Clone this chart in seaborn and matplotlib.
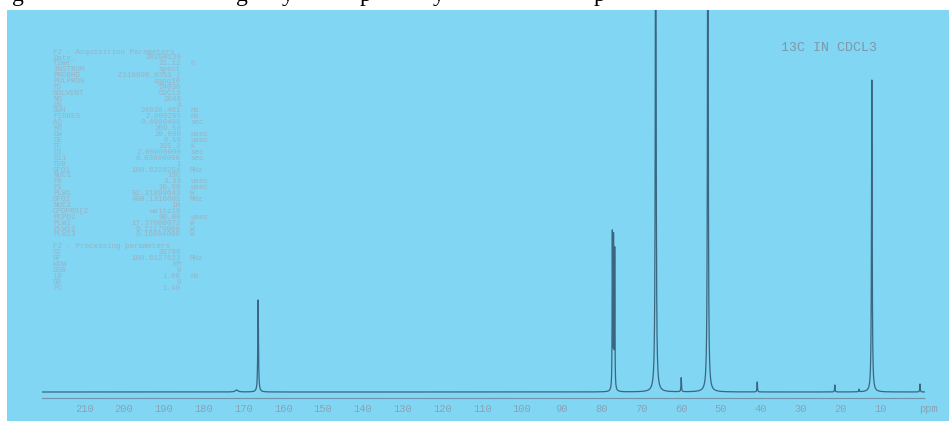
import numpy as np
import pandas as pd
import matplotlib
matplotlib.use("Agg")
import matplotlib.pyplot as plt
import seaborn as sns
from matplotlib.patches import Rectangle
from matplotlib.ticker import MultipleLocator, FixedLocator

# ---------------- data ----------------
peak_ppm = [171.7, 166.3, 77.3, 77.0, 76.7, 66.4, 60.0, 53.3, 40.9, 21.4, 15.3, 12.1, 0.0]
peak_height = [2.0, 92.0, 155.0, 148.0, 138.0, 700.0, 14.0, 650.0, 10.0, 7.0, 2.5, 312.0, 8.0]
peak_hwhm = [0.4, 0.10, 0.06, 0.06, 0.06, 0.10, 0.07, 0.10, 0.07, 0.07, 0.07, 0.10, 0.07]

tick_values = [210, 200, 190, 180, 170, 160, 150, 140, 130, 120, 110, 100,
               90, 80, 70, 60, 50, 40, 30, 20, 10]

acq_title = "F2 - Acquisition Parameters"
acq_labels = ["Date_", "Time", "INSTRUM", "PROBHD", "PULPROG", "TD", "SOLVENT", "NS",
              "DS", "SWH", "FIDRES", "AQ", "RG", "DW", "DE", "TE", "D1", "D11", "TD0",
              "SFO1", "NUC1", "P0", "P1", "PLW1", "SFO2", "NUC2", "CPDPRG[2", "PCPD2",
              "PLW2", "PLW12", "PLW13"]
acq_values = ["20250130", "21.12", "spect", "Z116098_0351 (", "zgpg30", "24036", "CDCl3",
              "2048", "4", "24038.461", "2.000205", "0.4999488", "209.58", "20.800",
              "6.50", "295.2", "2.00000000", "0.03000000", "1", "100.6228254", "13C",
              "3.33", "10.00", "52.31899643", "400.1316005", "1H", "waltz16", "90.00",
              "17.37000072", "0.21179000", "0.16604000"]
acq_units = ["", "h", "", "", "", "", "", "", "", "Hz", "Hz", "sec", "", "usec", "usec",
             "K", "sec", "sec", "", "MHz", "", "usec", "usec", "W", "MHz", "", "",
             "usec", "W", "W", "W"]

proc_title = "F2 - Processing parameters"
proc_labels = ["SI", "SF", "WDW", "SSB", "LB", "GB", "PC"]
proc_values = ["32768", "100.6127623", "EM", "0", "1.00", "0", "1.40"]
proc_units = ["", "MHz", "", "", "Hz", "", ""]

caption_glyphs = ["g", "g", "y", "p", "y", "p"]
caption_x = [18, 242, 288, 366, 439, 600]

sample_label = "13C IN CDCL3"

# ---------------- spectrum from the peak list ----------------
ppm = np.linspace(222.0, -2.0, 44801)
intensity = np.zeros_like(ppm)
for c, h, w in zip(peak_ppm, peak_height, peak_hwhm):
    intensity += h * w**2 / ((ppm - c) ** 2 + w**2)
df = pd.DataFrame({"ppm": ppm, "intensity": intensity})

# ---------------- figure ----------------
W, H = 949, 421
BLUE = "#80d6f3"
LINE = "#3b6680"
TXT = "#9ab2c3"
AX_TXT = "#8aa2b4"
PFS = 5.4  # parameter listing font size

sns.set_style("white")
plt.rcParams["font.family"] = ["Liberation Mono", "DejaVu Sans Mono"]

fig = plt.figure(figsize=(W / 100, H / 100), dpi=100, facecolor="white")
fig.patches.append(Rectangle((7 / W, 0), 1 - 7 / W, 1 - 10 / H,
                             transform=fig.transFigure, facecolor=BLUE,
                             edgecolor="none", zorder=-10))

ax = fig.add_axes([42 / W, 20 / H, 883 / W, 391 / H])
ax.set_facecolor("none")
sns.lineplot(data=df, x="ppm", y="intensity", ax=ax, color=LINE, linewidth=0.9,
             estimator=None, sort=False)
ax.set_xlim(220.6, -1.26)
ax.set_ylim(-9, 382)
ax.set_xlabel("")
ax.set_ylabel("")
ax.set_yticks([])
for s in ["left", "right", "top"]:
    ax.spines[s].set_visible(False)
ax.spines["bottom"].set_position(("data", -5.5))
ax.spines["bottom"].set_color("#6f93a8")
ax.spines["bottom"].set_linewidth(0.8)
ax.spines["bottom"].set_linestyle((0, (2, 1)))
ax.xaxis.set_major_locator(FixedLocator(tick_values))
ax.xaxis.set_minor_locator(MultipleLocator(2))
ax.set_xticklabels([str(v) for v in tick_values])
ax.tick_params(axis="x", which="major", direction="inout", length=4, width=0.7,
               color="#6f93a8", labelcolor=AX_TXT, labelsize=7.5, pad=3)
ax.tick_params(axis="x", which="minor", direction="out", length=1.5, width=0.5,
               color="#7fa0b3")


def fy(y):
    return 1 - y / H


fig.text(929 / W, fy(409), "ppm", ha="center", va="center", fontsize=7.5, color=AX_TXT)
fig.text(829 / W, fy(48), sample_label, ha="center", va="center",
         fontsize=9.5, color="#7f97a9")

# parameter listing
step = 5.9
y0 = 52
fig.text(53 / W, fy(y0), acq_title, ha="left", va="center", fontsize=PFS, color=TXT)
for i, (lab, val, unit) in enumerate(zip(acq_labels, acq_values, acq_units)):
    y = y0 + (i + 1) * step
    fig.text(53 / W, fy(y), lab, ha="left", va="center", fontsize=PFS, color=TXT)
    fig.text(181 / W, fy(y), val, ha="right", va="center", fontsize=PFS, color=TXT)
    if unit:
        fig.text(190 / W, fy(y), unit, ha="left", va="center", fontsize=PFS, color=TXT)

yp = y0 + (len(acq_labels) + 2) * step
fig.text(53 / W, fy(yp), proc_title, ha="left", va="center", fontsize=PFS, color=TXT)
for i, (lab, val, unit) in enumerate(zip(proc_labels, proc_values, proc_units)):
    y = yp + (i + 1) * step
    fig.text(53 / W, fy(y), lab, ha="left", va="center", fontsize=PFS, color=TXT)
    fig.text(181 / W, fy(y), val, ha="right", va="center", fontsize=PFS, color=TXT)
    if unit:
        fig.text(190 / W, fy(y), unit, ha="left", va="center", fontsize=PFS, color=TXT)

# cut-off caption from the page above
for g, gx in zip(caption_glyphs, caption_x):
    fig.text(gx / W, 1 - 1 / H, g, ha="center", va="baseline", fontsize=17,
             family=["Liberation Serif", "DejaVu Serif"], color="black")

fig.savefig("out.png", dpi=100, facecolor="white")
